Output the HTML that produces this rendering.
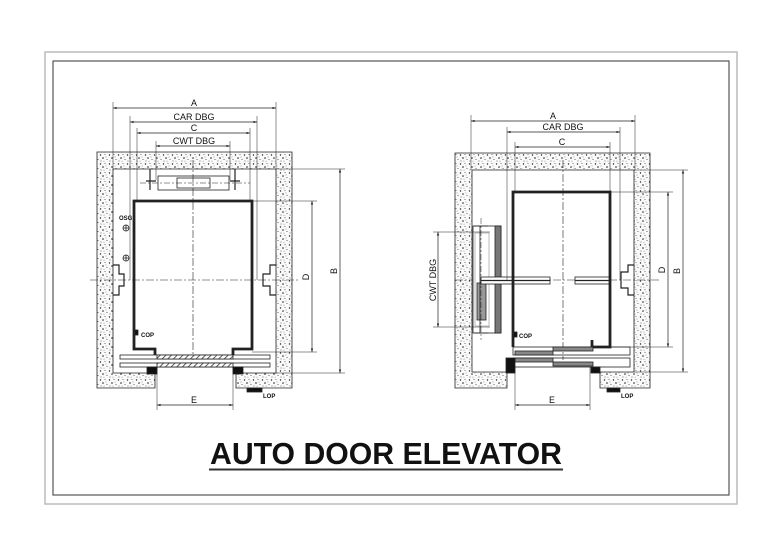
<!DOCTYPE html>
<html><head><meta charset="utf-8"><style>
html,body{margin:0;padding:0;background:#fff;width:780px;height:551px;overflow:hidden}
svg{display:block}
text{font-family:"Liberation Sans",Arial,sans-serif;fill:#111}
</style></head><body>
<svg width="780" height="551" viewBox="0 0 780 551" xmlns="http://www.w3.org/2000/svg">
<defs>
<pattern id="conc" width="9" height="9" patternUnits="userSpaceOnUse">
<rect width="9" height="9" fill="#fafafa"/>
<circle cx="1.5" cy="2" r="0.7" fill="#222"/><circle cx="6" cy="1.5" r="0.5" fill="#444"/>
<circle cx="4" cy="5" r="0.8" fill="#222"/><circle cx="8" cy="6.5" r="0.5" fill="#333"/>
<circle cx="2" cy="8" r="0.5" fill="#444"/><circle cx="7" cy="4" r="0.4" fill="#333"/>
<circle cx="5" cy="8.2" r="0.4" fill="#555"/>
</pattern>
<pattern id="hatch" width="4" height="4" patternUnits="userSpaceOnUse" patternTransform="rotate(45)">
<rect width="4" height="4" fill="#fff"/><line x1="0" y1="0" x2="0" y2="4" stroke="#333" stroke-width="1.6"/>
</pattern>
<marker id="ar" viewBox="0 0 6 6" refX="6" refY="3" markerWidth="5" markerHeight="5" orient="auto-start-reverse"><path d="M0,1 L6,3 L0,5z" fill="#222"/></marker>
</defs>
<rect x="45" y="52" width="692" height="452" fill="none" stroke="#bbb" stroke-width="1.5"/>
<rect x="53" y="61" width="676" height="434" fill="none" stroke="#555" stroke-width="1.2"/>

<!-- LEFT -->
<g stroke="#222" stroke-width="0.8" fill="none">
<path d="M97,152 H292 V388 H236 V373 H276 V169 H113 V373 H155 V388 H97 Z" fill="url(#conc)"/>
<line x1="90" y1="280" x2="300" y2="280" stroke-dasharray="8,2,2,2" stroke-width="0.6"/>
<line x1="193" y1="160" x2="193" y2="360" stroke-dasharray="8,2,2,2" stroke-width="0.6"/>
<rect x="158" y="176" width="71" height="14"/>
<rect x="177" y="178" width="33" height="10"/>
<path d="M150,169 V190 M146,181 H156 M235,169 V190 M230,181 H240" stroke-width="1.2"/>
<line x1="140" y1="183" x2="250" y2="183" stroke-dasharray="6,2,2,2" stroke-width="0.5"/>
<path d="M113,265 H119 V274 H124 V286 H119 V295 H113" stroke-width="1.2"/>
<path d="M276,265 H270 V274 H263 V286 H270 V295 H276" stroke-width="1.2"/>
<circle cx="126" cy="228" r="3"/><path d="M123,228 H129 M126,225 V231"/>
<circle cx="126" cy="258" r="3"/><path d="M126,255 V261 M123,258 H129"/>
<path d="M155,355 V349 H134 V201 H252 V349 H233 V355" stroke-width="2.8"/>
<rect x="135" y="330" width="3" height="5" fill="#111"/>
<rect x="120" y="355" width="150" height="4"/>
<rect x="120" y="363" width="150" height="4"/>
<rect x="157" y="355" width="76" height="4" fill="url(#hatch)"/>
<rect x="157" y="363" width="76" height="4" fill="url(#hatch)"/>
<rect x="147" y="367" width="10" height="7" fill="#111"/>
<rect x="233" y="367" width="10" height="7" fill="#111"/>
<rect x="247" y="388" width="15" height="4" fill="#111"/>
<path d="M113,108 H276" marker-start="url(#ar)" marker-end="url(#ar)" stroke-width="0.7"/>
<path d="M113,102 V170 M276,102 V170" stroke-width="0.5"/>
<path d="M130,122 H257" marker-start="url(#ar)" marker-end="url(#ar)" stroke-width="0.7"/>
<path d="M130,116 V280 M257,116 V280" stroke-width="0.5"/>
<path d="M137,133 H250" marker-start="url(#ar)" marker-end="url(#ar)" stroke-width="0.7"/>
<path d="M137,128 V202 M250,128 V202" stroke-width="0.5"/>
<path d="M156,146 H230" marker-start="url(#ar)" marker-end="url(#ar)" stroke-width="0.7"/>
<path d="M156,141 V180 M230,141 V180" stroke-width="0.5"/>
<path d="M340,169 V373" marker-start="url(#ar)" marker-end="url(#ar)" stroke-width="0.7"/>
<path d="M276,169 H345 M276,373 H345" stroke-width="0.5"/>
<path d="M312,201 V352" marker-start="url(#ar)" marker-end="url(#ar)" stroke-width="0.7"/>
<path d="M252,201 H317 M252,352 H317" stroke-width="0.5"/>
<path d="M157,405 H233" marker-start="url(#ar)" marker-end="url(#ar)" stroke-width="0.7"/>
<path d="M157,367 V410 M233,367 V410" stroke-width="0.5"/>
</g>
<g font-size="9" text-anchor="middle">
<text x="194" y="106">A</text><text x="194" y="120">CAR DBG</text><text x="194" y="131">C</text><text x="194" y="144">CWT DBG</text>
<text x="194" y="403">E</text>
<text transform="translate(337,271) rotate(-90)">B</text>
<text transform="translate(309,277) rotate(-90)">D</text>
</g>
<g font-size="6" font-weight="bold"><text x="119" y="220">OSG</text><text x="141" y="337">COP</text><text x="263" y="398">LOP</text></g>

<!-- RIGHT -->
<g stroke="#222" stroke-width="0.8" fill="none">
<path d="M455,153 H650 V388 H600 V372 H634 V170 H472 V372 H507 V388 H455 Z" fill="url(#conc)"/>
<line x1="455" y1="280" x2="660" y2="280" stroke-dasharray="8,2,2,2" stroke-width="0.6"/>
<line x1="563" y1="160" x2="563" y2="360" stroke-dasharray="8,2,2,2" stroke-width="0.6"/>
<rect x="473" y="226" width="28" height="107" fill="#fff"/>
<rect x="495" y="226" width="6" height="107" fill="#777"/>
<rect x="475" y="233" width="14" height="93" stroke="#aaa"/>
<rect x="477" y="283" width="9" height="37" fill="#999"/>
<path d="M480,226 V333 M474,226 H488 M474,333 H488" stroke-width="0.8"/>
<line x1="481" y1="218" x2="481" y2="340" stroke-dasharray="6,2,2,2" stroke-width="0.5"/>
<rect x="481" y="277" width="69" height="7" fill="#fff"/>
<line x1="481" y1="280.5" x2="550" y2="280.5" stroke-width="1.2"/>
<rect x="575" y="277" width="35" height="7" fill="#fff"/>
<line x1="575" y1="280.5" x2="610" y2="280.5" stroke-width="1.2"/>
<path d="M634,265 H628 V272 H621 V288 H628 V295 H634" stroke-width="1.2"/>
<path d="M513,347 V192 H610 V347 H592 V340" stroke-width="2.8"/>
<rect x="514" y="332" width="3" height="5" fill="#111"/>
<rect x="513" y="347" width="117" height="8"/>
<rect x="513" y="358" width="117" height="9"/>
<rect x="553" y="347" width="40" height="4" fill="#888"/>
<rect x="515" y="351" width="38" height="4" fill="#888"/>
<rect x="515" y="358" width="38" height="4" fill="#888"/>
<rect x="553" y="362" width="40" height="4" fill="#888"/>
<rect x="506" y="358" width="9" height="15" fill="#111"/>
<rect x="591" y="367" width="9" height="6" fill="#111"/>
<rect x="607" y="388" width="13" height="4" fill="#111"/>
<path d="M471,121 H635" marker-start="url(#ar)" marker-end="url(#ar)" stroke-width="0.7"/>
<path d="M471,115 V170 M635,115 V170" stroke-width="0.5"/>
<path d="M507,132 H620" marker-start="url(#ar)" marker-end="url(#ar)" stroke-width="0.7"/>
<path d="M507,127 V280 M620,127 V280" stroke-width="0.5"/>
<path d="M515,147 H610" marker-start="url(#ar)" marker-end="url(#ar)" stroke-width="0.7"/>
<path d="M515,142 V193 M610,142 V193" stroke-width="0.5"/>
<path d="M438,232 V327" marker-start="url(#ar)" marker-end="url(#ar)" stroke-width="0.7"/>
<path d="M433,232 H490 M433,327 H490" stroke-width="0.5"/>
<path d="M683,170 V372" marker-start="url(#ar)" marker-end="url(#ar)" stroke-width="0.7"/>
<path d="M634,170 H688 M634,372 H688" stroke-width="0.5"/>
<path d="M668,192 V347" marker-start="url(#ar)" marker-end="url(#ar)" stroke-width="0.7"/>
<path d="M610,192 H673 M610,347 H673" stroke-width="0.5"/>
<path d="M515,405 H590" marker-start="url(#ar)" marker-end="url(#ar)" stroke-width="0.7"/>
<path d="M515,367 V410 M590,367 V410" stroke-width="0.5"/>
</g>
<g font-size="9" text-anchor="middle">
<text x="553" y="119">A</text><text x="563" y="130">CAR DBG</text><text x="562" y="145">C</text>
<text x="552" y="403">E</text>
<text transform="translate(680,271) rotate(-90)">B</text>
<text transform="translate(665,270) rotate(-90)">D</text>
<text transform="translate(436,280) rotate(-90)">CWT DBG</text>
</g>
<g font-size="6" font-weight="bold"><text x="519" y="338">COP</text><text x="621" y="398">LOP</text></g>

<text x="386" y="464" font-size="31" font-weight="bold" text-anchor="middle" textLength="352" lengthAdjust="spacingAndGlyphs">AUTO DOOR ELEVATOR</text>
<line x1="209" y1="469.5" x2="563" y2="469.5" stroke="#333" stroke-width="2"/>
</svg>
</body></html>
